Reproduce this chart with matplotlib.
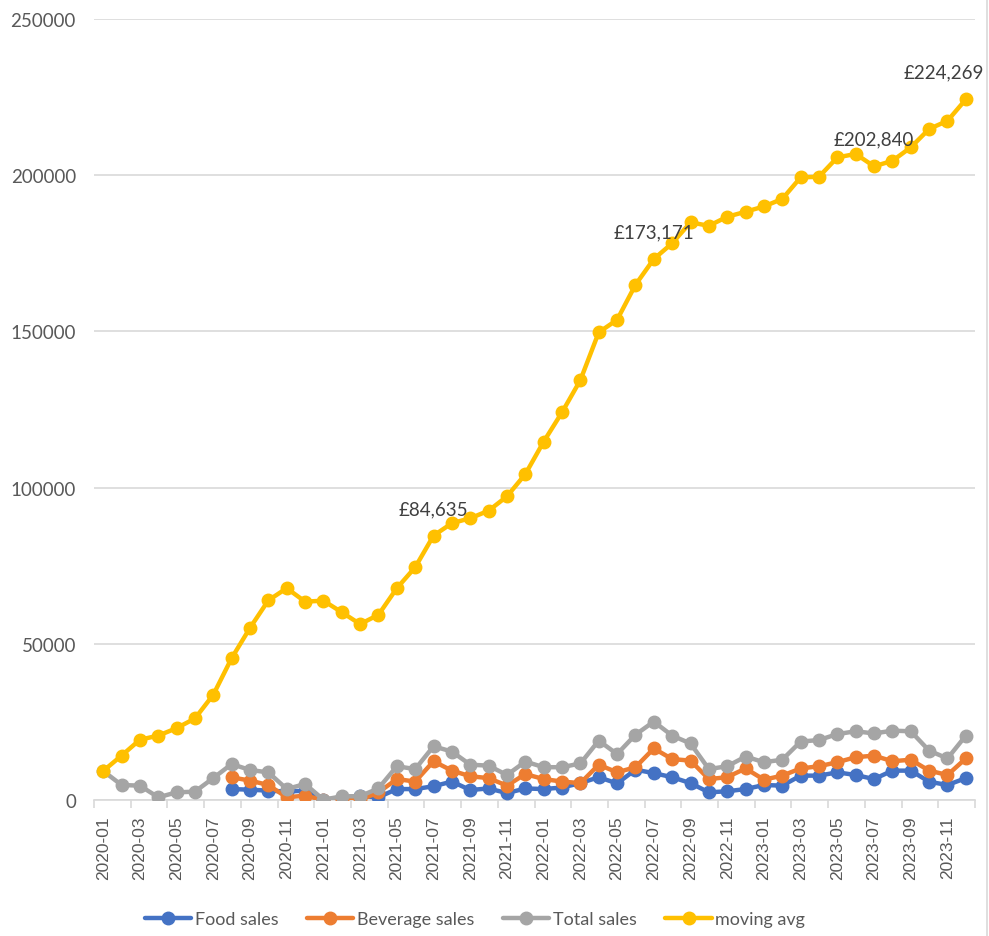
import numpy as np
import matplotlib
matplotlib.use("Agg")
import matplotlib.pyplot as plt
from matplotlib.lines import Line2D

months = [f"{y}-{m:02d}" for y in range(2020, 2024) for m in range(1, 13)]

nan = np.nan
food_sales = [nan, nan, nan, nan, nan, nan, nan,
              3500, 3300, 3000, 2700, 3000, 0, 800, 1200, 900, 3500, 3500,
              4400, 5900, 3200, 3700, 2200, 3700, 3500, 4000, 5400, 7300,
              5300, 9700, 8600, 7300, 5400, 2450, 2800, 3500, 4800, 4600,
              7800, 7800, 8850, 8000, 6700, 9400, 9400, 5850, 4800, 7000]
beverage_sales = [nan, nan, nan, nan, nan, nan, nan,
                  7260, 6200, 4800, 860, 1400, 0, 0, 0, 2450, 6700, 5900,
                  12400, 9400, 7600, 7000, 4600, 8300, 6700, 5900, 5400, 11300,
                  8850, 10500, 16500, 13100, 12600, 6700, 7300, 10100, 6500, 7800,
                  10100, 10800, 12100, 13700, 14200, 12400, 12900, 9400, 8000, 13300]
total_sales = [9300, 4800, 4600, 860, 2450, 2670, 7040,
               11500, 9600, 8850, 3520, 5120, 100, 1180, 1200, 3740, 10800, 9900,
               17200, 15500, 11300, 11000, 8000, 12300, 10500, 10500, 11700, 19000,
               14700, 20900, 25100, 20600, 18100, 9900, 10800, 13900, 12100, 12900,
               18700, 19200, 21100, 22000, 21300, 22200, 22000, 15800, 13300, 20600]
moving_avg = [9300, 14200, 19300, 20600, 23000, 26100, 33700, 45400, 55100, 63900,
              67800, 63500, 63800, 60100, 56300, 59300, 67800, 74500,
              84635, 88600, 90200, 92600, 97200, 104300, 114700, 124100, 134400, 149700,
              153700, 164900, 173171, 178200, 184900, 183800, 186700, 188300, 190000, 192400,
              199300, 199500, 205700, 206800, 202840, 204600, 208900, 214800, 217400, 224269]
label_idx = [18, 30, 42, 47]

series = [
    ("Food sales", food_sales, "#4472C4"),
    ("Beverage sales", beverage_sales, "#ED7D31"),
    ("Total sales", total_sales, "#A5A5A5"),
    ("moving avg", moving_avg, "#FFC000"),
]

fig = plt.figure(figsize=(9.89, 9.37), dpi=100)
ax = fig.add_axes([94/989, 1-801/937, (975-94)/989, (801-20)/937])

x = np.arange(len(months))
for name, vals, col in series:
    ax.plot(x, vals, color=col, lw=3.2, marker="o", markersize=9,
            label=name, solid_capstyle="round", zorder=3)

for i in label_idx:
    dx = -16 if i == len(months) - 1 else 0
    ax.annotate(f"£{moving_avg[i]:,}", (x[i], moving_avg[i]), xytext=(dx, 19.5),
                textcoords="offset points", ha="center", va="center",
                fontsize=13.5, color="#404040", family="Lato", zorder=5)

ax.set_xlim(-0.5, len(months) - 0.5)
ax.set_ylim(0, 250000)
ax.set_yticks(np.arange(0, 250001, 50000))
ax.yaxis.grid(True, color="#D9D9D9", lw=1.2)
ax.set_axisbelow(True)
for s in ["top", "right", "left"]:
    ax.spines[s].set_visible(False)
ax.spines["bottom"].set_color("#D9D9D9")
ax.spines["bottom"].set_linewidth(1.2)

ax.tick_params(axis="y", length=0, pad=13, labelsize=13.5, labelcolor="#595959")
for t in ax.get_yticklabels():
    t.set_family("Lato")

ax.set_xticks(x[::2])
ax.set_xticklabels(months[::2], rotation=90, fontsize=12.5, color="#595959",
                   family="Liberation Sans")
ax.tick_params(axis="x", which="major", length=0, pad=11)
ax.set_xticks(np.arange(-0.5, len(months), 2), minor=True)
ax.tick_params(axis="x", which="minor", length=6, color="#D9D9D9", width=1.2)

leg = fig.legend(loc="center", bbox_to_anchor=(475/989, 1-920/937), ncol=4,
                 frameon=False, handlelength=2.55, handletextpad=0.2,
                 columnspacing=1.6, prop={"family": "Lato", "size": 13})
for t in leg.get_texts():
    t.set_color("#595959")

fig.add_artist(Line2D([987/989, 987/989], [0, 1], transform=fig.transFigure,
                      color="#D9D9D9", lw=1.2))

fig.savefig("out.png", dpi=100)
